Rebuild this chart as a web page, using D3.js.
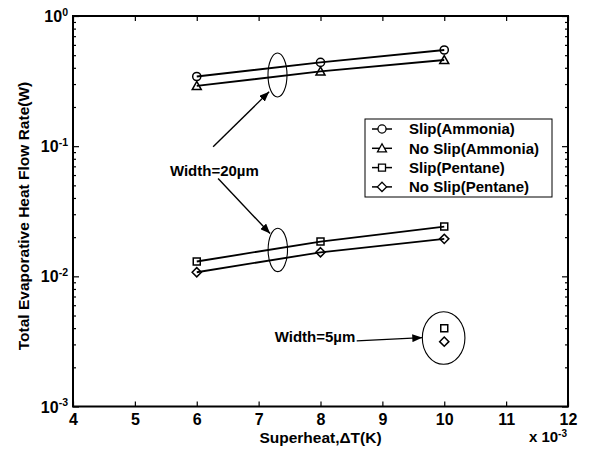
<!DOCTYPE html>
<html>
<head>
<meta charset="utf-8">
<script src="https://cdn.jsdelivr.net/npm/d3@7/dist/d3.min.js"></script>
<style>
  html, body { margin: 0; padding: 0; background: #fff; }
  svg { display: block; }
  text { font-family: "Liberation Sans", Arial, Helvetica, sans-serif; font-weight: bold; fill: #000; }
</style>
</head>
<body>
<svg id="chart" width="590" height="454"></svg>
<script>
// Superheat in kelvin (axis shows it in units of 1e-3 K)
const superheat = [0.006, 0.008, 0.010];
// Total evaporative heat flow rate (W), channel width 20 µm
const slipAmmonia   = [0.343, 0.44, 0.548];
const noSlipAmmonia = [0.29, 0.375, 0.459];
const slipPentane   = [0.013, 0.0185, 0.0241];
const noSlipPentane = [0.01075, 0.0153, 0.0194];
// Channel width 5 µm, pentane only
const narrowSuperheat     = [0.010];
const narrowSlipPentane   = [0.0040];
const narrowNoSlipPentane = [0.00315];

const xTicks = [0.004, 0.005, 0.006, 0.007, 0.008, 0.009, 0.010, 0.011, 0.012];
const yMajor = [1e-3, 1e-2, 1e-1, 1];
const legendLabels = ["Slip(Ammonia)", "No Slip(Ammonia)", "Slip(Pentane)", "No Slip(Pentane)"];

const frame = { left: 73, right: 568, top: 16, bottom: 406.5 };
const svg = d3.select("#chart");

const x = d3.scaleLinear().domain([0.004, 0.012]).range([frame.left, frame.right]);
const y = d3.scaleLog().domain([1e-3, 1]).range([frame.bottom, frame.top]);

// Marker shapes
const tri = { draw(ctx, size) { const s = Math.sqrt(size) / 2; ctx.moveTo(0, -s); ctx.lineTo(s, s * 0.8); ctx.lineTo(-s, s * 0.8); ctx.closePath(); } };
const dia = { draw(ctx, size) { const s = Math.sqrt(size) / 2; ctx.moveTo(0, -s); ctx.lineTo(s, 0); ctx.lineTo(0, s); ctx.lineTo(-s, 0); ctx.closePath(); } };
const shapes = {
  circle: d3.symbol().type(d3.symbolCircle).size(52)(),
  triangle: d3.symbol().type(tri).size(81)(),
  square: d3.symbol().type(d3.symbolSquare).size(49)(),
  diamond: d3.symbol().type(dia).size(85)()
};

const series = [
  { name: legendLabels[0], xs: superheat, ys: slipAmmonia, shape: "circle" },
  { name: legendLabels[1], xs: superheat, ys: noSlipAmmonia, shape: "triangle" },
  { name: legendLabels[2], xs: superheat, ys: slipPentane, shape: "square" },
  { name: legendLabels[3], xs: superheat, ys: noSlipPentane, shape: "diamond" },
  { name: "narrow-slip", xs: narrowSuperheat, ys: narrowSlipPentane, shape: "square" },
  { name: "narrow-noslip", xs: narrowSuperheat, ys: narrowNoSlipPentane, shape: "diamond" }
];

// Arrowhead
svg.append("defs").append("marker")
  .attr("id", "head").attr("markerUnits", "userSpaceOnUse")
  .attr("viewBox", "0 0 10 8").attr("refX", 10).attr("refY", 4)
  .attr("markerWidth", 10).attr("markerHeight", 8).attr("orient", "auto")
  .append("path").attr("d", "M0,0 L10,4 L0,8 Z").attr("fill", "#000");

// Axes: ticks point inward on all four sides
const fmtX = d => String(Math.round(d * 1000));
const axBottom = svg.append("g").attr("transform", `translate(0,${frame.bottom})`)
  .call(d3.axisBottom(x).tickValues(xTicks).tickSizeInner(-5).tickSizeOuter(0).tickPadding(7).tickFormat(fmtX));
const axTop = svg.append("g").attr("transform", `translate(0,${frame.top})`)
  .call(d3.axisTop(x).tickValues(xTicks).tickSizeInner(-5).tickSizeOuter(0).tickFormat(""));

const yMinor = y.ticks().filter(v => !yMajor.some(m => Math.abs(m - v) / m < 1e-9));
const axLeftMinor = svg.append("g").attr("transform", `translate(${frame.left},0)`)
  .call(d3.axisLeft(y).tickValues(yMinor).tickSizeInner(-3).tickSizeOuter(0).tickFormat(""));
const axRightMinor = svg.append("g").attr("transform", `translate(${frame.right},0)`)
  .call(d3.axisRight(y).tickValues(yMinor).tickSizeInner(-3).tickSizeOuter(0).tickFormat(""));
const axLeftMajor = svg.append("g").attr("transform", `translate(${frame.left},0)`)
  .call(d3.axisLeft(y).tickValues(yMajor).tickSizeInner(-6).tickSizeOuter(0).tickPadding(5).tickFormat(""));
const axRightMajor = svg.append("g").attr("transform", `translate(${frame.right},0)`)
  .call(d3.axisRight(y).tickValues(yMajor).tickSizeInner(-6).tickSizeOuter(0).tickFormat(""));

[axBottom, axTop, axLeftMinor, axRightMinor, axLeftMajor, axRightMajor].forEach(g => {
  g.select(".domain").remove();
  g.selectAll(".tick line").attr("stroke", "#000").attr("stroke-width", 1.2);
});
axBottom.selectAll(".tick text").attr("font-size", 16).attr("fill", "#000")
  .style("font-family", "'Liberation Sans', Arial, sans-serif").style("font-weight", "bold");

// Power-of-ten labels on the log axis
axLeftMajor.selectAll(".tick").each(function (d) {
  const t = d3.select(this).select("text")
    .attr("x", -5).attr("dy", "0.35em").attr("font-size", 16).attr("fill", "#000")
    .style("font-family", "'Liberation Sans', Arial, sans-serif").style("font-weight", "bold")
    .text("10");
  t.append("tspan").attr("font-size", 10.5).attr("dy", "-0.6em").text(String(Math.round(Math.log10(d))));
});

// Plot frame
svg.append("rect")
  .attr("x", frame.left).attr("y", frame.top)
  .attr("width", frame.right - frame.left).attr("height", frame.bottom - frame.top)
  .attr("fill", "none").attr("stroke", "#000").attr("stroke-width", 2);

// Axis titles
svg.append("text").attr("x", (frame.left + frame.right) / 2).attr("y", 443)
  .attr("text-anchor", "middle").attr("font-size", 15.5).text("Superheat,\u0394T(K)");
const mult = svg.append("text").attr("x", 567).attr("y", 442).attr("text-anchor", "end").attr("font-size", 15).text("x 10");
mult.append("tspan").attr("font-size", 10).attr("dy", "-0.5em").text("-3");
svg.append("text")
  .attr("transform", `translate(29,216) rotate(-90)`)
  .attr("text-anchor", "middle").attr("font-size", 15.5).text("Total Evaporative Heat Flow Rate(W)");

// Data lines and markers
const line = d3.line().x(d => x(d[0])).y(d => y(d[1]));
const plot = svg.append("g");
series.forEach(s => {
  const pts = s.xs.map((v, i) => [v, s.ys[i]]);
  if (pts.length > 1) {
    plot.append("path").datum(pts).attr("d", line)
      .attr("fill", "none").attr("stroke", "#000").attr("stroke-width", 1.8);
  }
  plot.selectAll(null).data(pts).join("path")
    .attr("transform", d => `translate(${x(d[0])},${y(d[1])})`)
    .attr("d", shapes[s.shape])
    .attr("fill", "none").attr("stroke", "#000").attr("stroke-width", 1.5);
});

// Annotations: ellipses around groups, labels and arrows (data coordinates)
const ellipses = [
  { cx: 0.007305, cy: 0.352, rx: 9.5, ry: 22 },
  { cx: 0.00731, cy: 0.01595, rx: 9.7, ry: 21.7 },
  { cx: 0.00999, cy: 0.00336, rx: 21.3, ry: 26.3 }
];
svg.append("g").selectAll("ellipse").data(ellipses).join("ellipse")
  .attr("cx", d => x(d.cx)).attr("cy", d => y(d.cy)).attr("rx", d => d.rx).attr("ry", d => d.ry)
  .attr("fill", "none").attr("stroke", "#000").attr("stroke-width", 1.1);

const arrows = [
  { x1: 0.006265, y1: 0.0988, x2: 0.007170, y2: 0.262 },
  { x1: 0.006345, y1: 0.0565, x2: 0.007185, y2: 0.0213 },
  { x1: 0.008585, y1: 0.00319, x2: 0.009645, y2: 0.00338 }
];
svg.append("g").selectAll("line").data(arrows).join("line")
  .attr("x1", d => x(d.x1)).attr("y1", d => y(d.y1)).attr("x2", d => x(d.x2)).attr("y2", d => y(d.y2))
  .attr("stroke", "#000").attr("stroke-width", 1.4).attr("marker-end", "url(#head)");

const notes = [
  { text: "Width=20\u00b5m", x: 0.006285, y: 0.0592 },
  { text: "Width=5\u00b5m", x: 0.007911, y: 0.00313 }
];
svg.append("g").selectAll("text").data(notes).join("text")
  .attr("x", d => x(d.x)).attr("y", d => y(d.y)).attr("text-anchor", "middle")
  .attr("font-size", 15).text(d => d.text);

// Legend
const lg = svg.append("g").attr("transform", "translate(365,119)");
lg.append("rect").attr("width", 187).attr("height", 78)
  .attr("fill", "#fff").attr("stroke", "#000").attr("stroke-width", 1);
const rows = lg.selectAll("g").data(series.slice(0, 4)).join("g")
  .attr("transform", (d, i) => `translate(0,${10 + i * 19.3})`);
rows.append("line").attr("x1", 7).attr("x2", 27).attr("stroke", "#000").attr("stroke-width", 1.5);
rows.append("path").attr("transform", "translate(17,0)").attr("d", d => shapes[d.shape])
  .attr("fill", "#fff").attr("stroke", "#000").attr("stroke-width", 1.3);
rows.append("text").attr("x", 44).attr("dy", "0.36em").attr("font-size", 15).text(d => d.name);
</script>
</body>
</html>
